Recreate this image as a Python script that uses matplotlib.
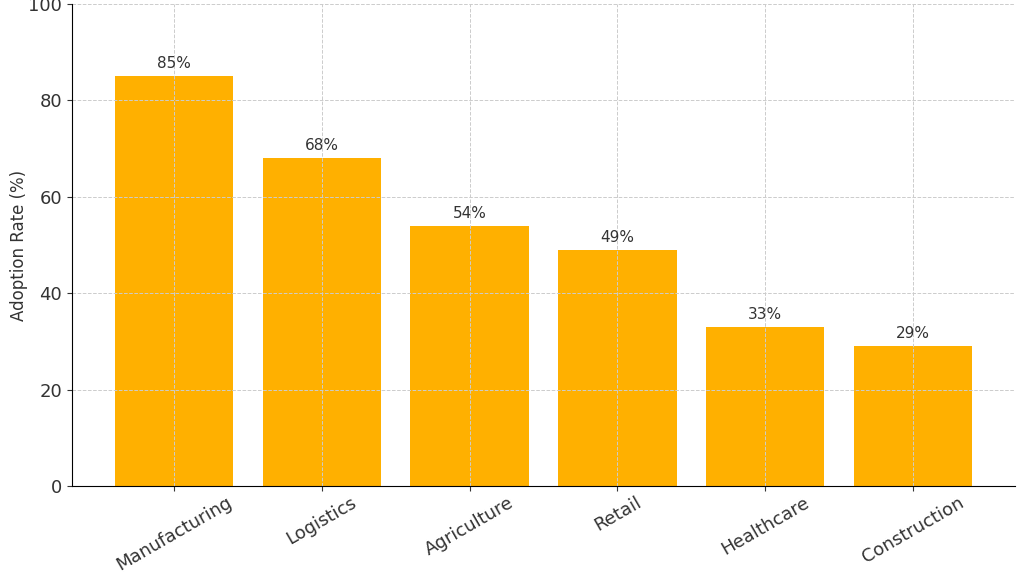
import matplotlib
matplotlib.use('Agg')
import matplotlib.pyplot as plt

industries = ['Manufacturing', 'Logistics', 'Agriculture', 'Retail', 'Healthcare', 'Construction']
adoption = [85, 68, 54, 49, 33, 29]

fig = plt.figure(figsize=(10.24, 5.79), dpi=100)
ax = fig.add_axes([0.0703, 0.1606, 0.921, 0.8325])

bars = ax.bar(industries, adoption, color='#FFB000', width=0.8)

# value labels above each bar
for b, v in zip(bars, adoption):
    ax.text(b.get_x() + b.get_width() / 2, v + 1, f'{v}%', ha='center', va='bottom',
            fontsize=11, color='#333333')

ax.set_ylim(0, 100)
ax.set_ylabel('Adoption Rate (%)', fontsize=12, color='#333333')
ax.yaxis.set_label_coords(-0.047, 0.5)
ax.grid(True, linestyle='--', color='#cccccc', linewidth=0.7)
ax.spines['top'].set_visible(False)
ax.spines['right'].set_visible(False)
ax.tick_params(axis='both', labelsize=13, colors='#333333')
ax.tick_params(axis='x', pad=2)
plt.setp(ax.get_xticklabels(), rotation=30, ha='center')

fig.savefig('out.png', dpi=100)
